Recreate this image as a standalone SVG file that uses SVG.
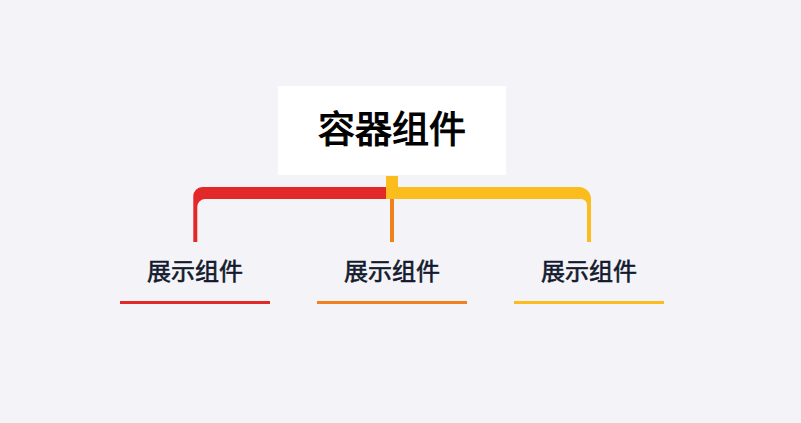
<svg xmlns="http://www.w3.org/2000/svg" width="801" height="423" viewBox="0 0 801 423">
<style>
.title{font-family:"Noto Sans CJK SC","Noto Sans",sans-serif;font-size:37px;font-weight:normal;fill:#000;stroke:#000;stroke-width:1.1px;text-anchor:middle}
.lbl{font-family:"Noto Sans CJK SC","Noto Sans",sans-serif;font-size:24px;font-weight:normal;fill:#141a2e;stroke:#141a2e;stroke-width:0.6px;text-anchor:middle}
</style>
<rect width="801" height="423" fill="#f4f4f8"/>
<g id="connectors">
<path d="M193.3,242 V196 A9,9 0 0 1 202.3,187 H388 V199 H205.3 A8,8 0 0 0 197.3,207 V242 Z" fill="#e3282a"/>
<path d="M386,176 H398 V187 H579 A12,12 0 0 1 591,199 V242 H587 V205 A6,6 0 0 0 581,199 H386 Z" fill="#fbbc1e"/>
<rect x="390" y="199" width="4" height="43" fill="#f0821e"/>
</g>
<g id="root">
<rect x="278" y="86" width="228" height="89" fill="#ffffff"/>
<text class="title" x="392" y="143">容器组件</text>
</g>
<g id="child1">
<text class="lbl" x="195" y="280">展示组件</text>
<rect x="120" y="301" width="150" height="3" fill="#e3282a"/>
</g>
<g id="child2">
<text class="lbl" x="392" y="280">展示组件</text>
<rect x="317" y="301" width="150" height="3" fill="#f0821e"/>
</g>
<g id="child3">
<text class="lbl" x="589" y="280">展示组件</text>
<rect x="514" y="301" width="150" height="3" fill="#fbbc1e"/>
</g>
</svg>
